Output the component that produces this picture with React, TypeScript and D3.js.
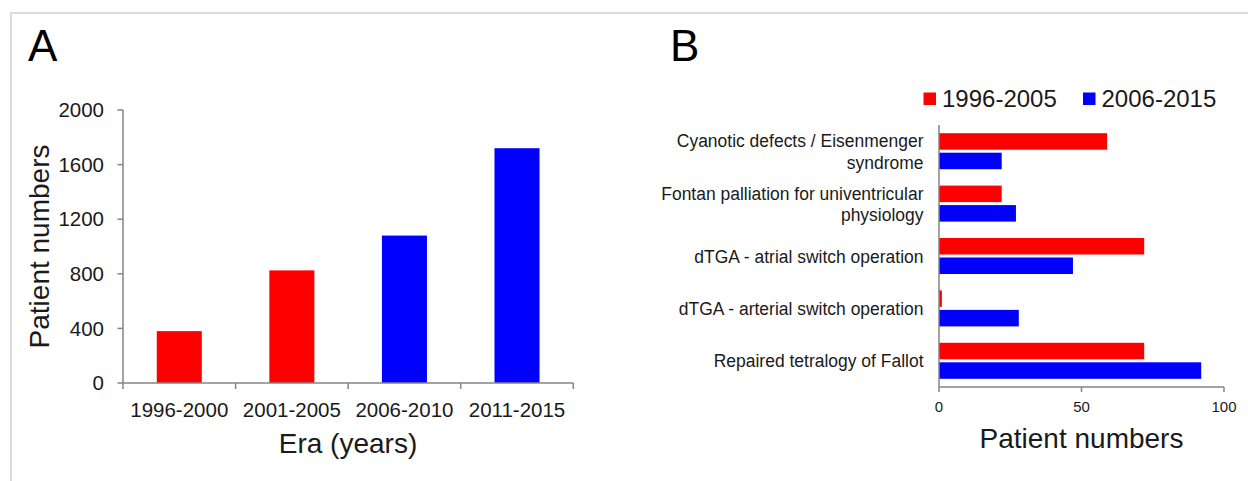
import React from "react";
import * as d3 from "d3";

const eras = ["1996-2000", "2001-2005", "2006-2010", "2011-2015"];
const eraCounts = [380, 825, 1080, 1720];
const eraSeries = ["1996-2005", "1996-2005", "2006-2015", "2006-2015"];
const yTicksA = [0, 400, 800, 1200, 1600, 2000];

const categories = [
  "Cyanotic defects / Eisenmenger syndrome",
  "Fontan palliation for univentricular physiology",
  "dTGA - atrial switch operation",
  "dTGA - arterial switch operation",
  "Repaired tetralogy of Fallot",
];
const categoryLines = [
  ["Cyanotic defects / Eisenmenger", "syndrome"],
  ["Fontan palliation for univentricular", "physiology"],
  ["dTGA - atrial switch operation"],
  ["dTGA - arterial switch operation"],
  ["Repaired tetralogy of Fallot"],
];
const series = ["1996-2005", "2006-2015"];
const early = [59, 22, 72, 1, 72];
const late = [22, 27, 47, 28, 92];
const xTicksB = [0, 50, 100];

const colors: Record<string, string> = { "1996-2005": "#ff0000", "2006-2015": "#0000ff" };
const FONT = "'Liberation Sans', Arial, sans-serif";
const TEXT = "#1a1a1a";
const AXIS = "#858585";

export default function App() {
  // Panel A
  const yA = d3.scaleLinear().domain([0, 2000]).range([383, 110]);
  const xA = d3.scaleBand<string>().domain(eras).range([123, 573.3]).paddingInner(0.6).paddingOuter(0.3);
  const stepA = xA.step();
  const boundaries = d3.range(eras.length + 1).map((i) => 123 + i * stepA);

  // Panel B
  const xB = d3.scaleLinear().domain([0, 100]).range([939, 1224]);
  const yB = d3.scaleBand<string>().domain(categories).range([125, 387]).padding(0);
  const yInner = d3.scaleBand<string>().domain(series).range([0, yB.bandwidth()]).paddingInner(0.154).paddingOuter(0.42);
  const values: Record<string, number[]> = { "1996-2005": early, "2006-2015": late };

  return (
    <svg width={1248} height={481} style={{ position: "absolute", left: 0, top: 0, background: "#fff" }} fontFamily={FONT}>
      <rect x={0} y={0} width={1248} height={481} fill="#fff" />
      {/* frame */}
      <path d="M11,481 L11,13 L1248,13" fill="none" stroke="#dcdcdc" strokeWidth={2} />

      {/* Panel A */}
      <text x={28} y={61} fontSize={44} fill="#000">A</text>
      {eras.map((e, i) => (
        <rect key={e} x={xA(e)} y={yA(eraCounts[i])} width={xA.bandwidth()} height={yA(0) - yA(eraCounts[i])} fill={colors[eraSeries[i]]} />
      ))}
      <line x1={123} x2={123} y1={yA(2000)} y2={yA(0)} stroke={AXIS} strokeWidth={1.5} />
      <line x1={123} x2={573.3} y1={yA(0)} y2={yA(0)} stroke={AXIS} strokeWidth={1.5} />
      {yTicksA.map((t) => (
        <g key={t}>
          <line x1={117.5} x2={123} y1={yA(t)} y2={yA(t)} stroke={AXIS} strokeWidth={1.5} />
          <text x={104} y={yA(t)} dy="0.35em" textAnchor="end" fontSize={20.5} fill={TEXT}>{t}</text>
        </g>
      ))}
      {boundaries.map((b, i) => (
        <line key={i} x1={b} x2={b} y1={yA(0)} y2={yA(0) + 6} stroke={AXIS} strokeWidth={1.5} />
      ))}
      {eras.map((e) => (
        <text key={e} x={(xA(e) as number) + xA.bandwidth() / 2} y={416.5} textAnchor="middle" fontSize={20.5} fill={TEXT}>{e}</text>
      ))}
      <text x={348} y={453} textAnchor="middle" fontSize={28} fill={TEXT}>Era (years)</text>
      <text transform={`translate(49,${(yA(0) + yA(2000)) / 2}) rotate(-90)`} textAnchor="middle" fontSize={28} fill={TEXT}>Patient numbers</text>

      {/* Panel B */}
      <text x={670} y={61} fontSize={44} fill="#000">B</text>
      {/* legend */}
      <rect x={923.5} y={92.5} width={12.5} height={12.5} fill={colors["1996-2005"]} />
      <text x={942} y={98.5} dy="0.35em" fontSize={24} fill={TEXT}>1996-2005</text>
      <rect x={1083} y={92.5} width={12.5} height={12.5} fill={colors["2006-2015"]} />
      <text x={1101.5} y={98.5} dy="0.35em" fontSize={24} fill={TEXT}>2006-2015</text>

      {categories.map((c, ci) => (
        <g key={c}>
          {series.map((s) => (
            <rect
              key={s}
              x={xB(0)}
              y={(yB(c) as number) + (yInner(s) as number)}
              width={xB(values[s][ci]) - xB(0)}
              height={yInner.bandwidth()}
              fill={colors[s]}
            />
          ))}
          {categoryLines[ci].map((ln, li) => {
            const n = categoryLines[ci].length;
            const cy = (yB(c) as number) + yB.bandwidth() / 2 + (li - (n - 1) / 2) * 21.5;
            return (
              <text key={li} transform={`translate(923.5,${cy}) scale(0.92,1)`} dy="0.35em" textAnchor="end" fontSize={19} fill={TEXT}>{ln}</text>
            );
          })}
        </g>
      ))}
      <line x1={xB(0)} x2={xB(0)} y1={125} y2={387} stroke={AXIS} strokeWidth={1.5} />
      <line x1={xB(0)} x2={xB(100)} y1={387} y2={387} stroke={AXIS} strokeWidth={1.5} />
      {xTicksB.map((t) => (
        <g key={t}>
          <line x1={xB(t)} x2={xB(t)} y1={387} y2={392} stroke={AXIS} strokeWidth={1.5} />
          <text x={xB(t)} y={407} dy="0.35em" textAnchor="middle" fontSize={15} fill={TEXT}>{t}</text>
        </g>
      ))}
      <text x={(xB(0) + xB(100)) / 2} y={448} textAnchor="middle" fontSize={28} fill={TEXT}>Patient numbers</text>
    </svg>
  );
}
